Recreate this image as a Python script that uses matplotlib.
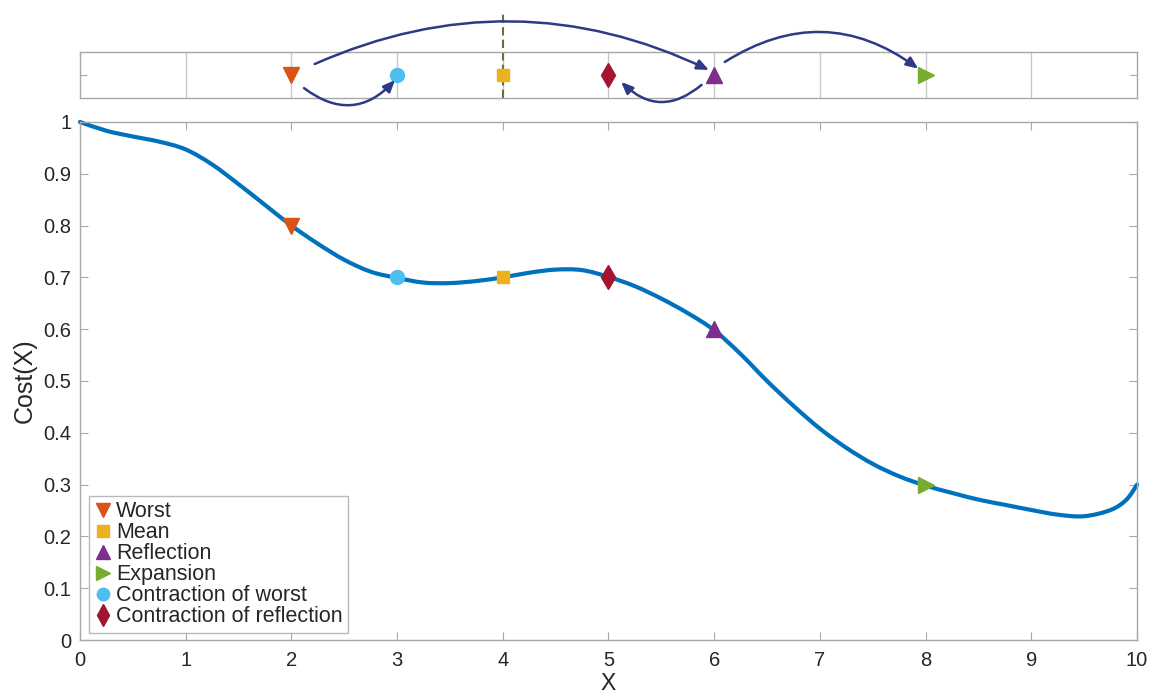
import matplotlib
matplotlib.use("Agg")
import matplotlib.pyplot as plt
from matplotlib.path import Path
from matplotlib.patches import PathPatch

plt.rcParams['font.family'] = ['Liberation Sans', 'DejaVu Sans']

# Cost function samples
curve_x = [0.0, 0.25, 0.5, 0.75, 1.0, 1.25, 1.5, 1.75, 2.0, 2.25, 2.5, 2.75,
           3.0, 3.25, 3.5, 3.75, 4.0, 4.25, 4.5, 4.75, 5.0, 5.25, 5.5, 5.75,
           6.0, 6.25, 6.5, 6.75, 7.0, 7.25, 7.5, 7.75, 8.0, 8.25, 8.5, 8.75,
           9.0, 9.25, 9.5, 9.75, 9.9, 10.0]
curve_y = [1.000, 0.983, 0.972, 0.962, 0.947, 0.918, 0.880, 0.840, 0.800, 0.765,
           0.734, 0.711, 0.699, 0.690, 0.689, 0.693, 0.700, 0.709, 0.715, 0.714,
           0.701, 0.683, 0.659, 0.631, 0.598, 0.552, 0.500, 0.452, 0.408, 0.371,
           0.340, 0.316, 0.298, 0.284, 0.271, 0.261, 0.251, 0.242, 0.239, 0.251,
           0.271, 0.300]

# Simplex steps
step_names = ["Worst", "Mean", "Reflection", "Expansion",
              "Contraction of worst", "Contraction of reflection"]
step_x = [2, 4, 6, 8, 3, 5]
step_y = [0.8, 0.7, 0.6, 0.3, 0.7, 0.7]
step_markers = ["v", "s", "^", ">", "o", "d"]
step_colors = ["#D95319", "#EDB120", "#7E2F8E", "#77AC30", "#4DBEEE", "#A2142F"]
step_sizes = [11, 9, 11, 11, 10, 12]

x_ticks = list(range(0, 11))
y_ticks = [0, 0.1, 0.2, 0.3, 0.4, 0.5, 0.6, 0.7, 0.8, 0.9, 1]
y_ticklabels = ["0", "0.1", "0.2", "0.3", "0.4", "0.5", "0.6", "0.7", "0.8", "0.9", "1"]

frame_color = "#a8a8a8"
text_color = "#262626"
arrow_color = "#2f3a86"


def smooth_path(xs, ys):
    """Catmull-Rom spline through the samples, expressed as cubic Bezier segments."""
    n = len(xs)
    verts = [(xs[0], ys[0])]
    codes = [Path.MOVETO]
    for i in range(n - 1):
        i0 = max(i - 1, 0)
        i3 = min(i + 2, n - 1)
        c1 = (xs[i] + (xs[i + 1] - xs[i0]) / 6.0, ys[i] + (ys[i + 1] - ys[i0]) / 6.0)
        c2 = (xs[i + 1] - (xs[i3] - xs[i]) / 6.0, ys[i + 1] - (ys[i3] - ys[i]) / 6.0)
        verts += [c1, c2, (xs[i + 1], ys[i + 1])]
        codes += [Path.CURVE4] * 3
    return Path(verts, codes)


fig = plt.figure(figsize=(11.52, 6.95), dpi=100)

# ---- main cost plot ----
ax = fig.add_axes([0.0694, 0.0791, 0.9176, 0.7454])
ax.add_patch(PathPatch(smooth_path(curve_x, curve_y), facecolor="none",
                       edgecolor="#0072BD", lw=3, capstyle="round",
                       joinstyle="round", zorder=2, clip_on=False))
for n, xv, yv, m, c, s in zip(step_names, step_x, step_y, step_markers,
                              step_colors, step_sizes):
    ax.plot([xv], [yv], linestyle="none", marker=m, color=c, markersize=s,
            label=n, zorder=3)
ax.set_xlim(0, 10)
ax.set_ylim(0, 1)
ax.set_xticks(x_ticks)
ax.set_yticks(y_ticks)
ax.set_yticklabels(y_ticklabels)
ax.tick_params(direction="in", length=6, width=0.8, color=frame_color,
               labelcolor=text_color, labelsize=14.5, top=True, right=True)
ax.tick_params(axis="x", pad=8)
ax.tick_params(axis="y", pad=6)
for sp in ax.spines.values():
    sp.set_color(frame_color)
    sp.set_linewidth(1.0)
ax.set_xlabel("X", fontsize=16.5, color=text_color)
ax.xaxis.set_label_coords(0.5, -0.062)
ax.set_ylabel("Cost(X)", fontsize=18, color=text_color, labelpad=5)

leg = ax.legend(loc="lower left", bbox_to_anchor=(0.009, 0.014), fontsize=15.5,
                frameon=True, fancybox=False, handlelength=0.8, handletextpad=0.2,
                labelspacing=0.0, borderpad=0.25, borderaxespad=0.0,
                edgecolor=frame_color, markerscale=0.9)
leg.get_frame().set_linewidth(1.0)
for t in leg.get_texts():
    t.set_color(text_color)

# ---- one-dimensional strip with the simplex moves ----
ax2 = fig.add_axes([0.0694, 0.859, 0.9176, 0.066])
ax2.set_xlim(0, 10)
ax2.set_ylim(-1, 1)
for xv in x_ticks[1:-1]:
    ax2.axvline(xv, color="#c8c8c8", lw=1.0, zorder=0)
ax2.set_xticks([])
ax2.set_yticks([0])
ax2.set_yticklabels([])
ax2.tick_params(axis="y", direction="in", length=5, color=frame_color,
                left=True, right=True)
for sp in ax2.spines.values():
    sp.set_color(frame_color)
    sp.set_linewidth(1.0)

# mean position marker line
ax2.plot([4, 4], [-1, 2.8], linestyle=(0, (4, 2)), color="#6e6e3c", lw=1.5,
         zorder=1, clip_on=False)

for xv, m, c, s in zip(step_x, step_markers, step_colors, step_sizes):
    ax2.plot([xv], [0], linestyle="none", marker=m, color=c, markersize=s,
             zorder=3, clip_on=False)

arrows = [
    ((2.22, 0.48), (5.95, 0.22), -0.23),   # worst -> reflection
    ((2.12, -0.57), (2.98, -0.22), 0.45),  # worst -> contraction of worst
    ((6.10, 0.57), (7.93, 0.28), -0.34),   # reflection -> expansion
    ((5.88, -0.43), (5.12, -0.30), -0.45), # reflection -> contraction of reflection
]
for start, end, rad in arrows:
    ax2.annotate("", xy=end, xytext=start, xycoords="data",
                 arrowprops=dict(arrowstyle="-|>,head_length=0.7,head_width=0.3",
                                 color=arrow_color, lw=1.8,
                                 connectionstyle=f"arc3,rad={rad}",
                                 shrinkA=0, shrinkB=0),
                 annotation_clip=False, zorder=4)

fig.savefig("out.png", dpi=100)
